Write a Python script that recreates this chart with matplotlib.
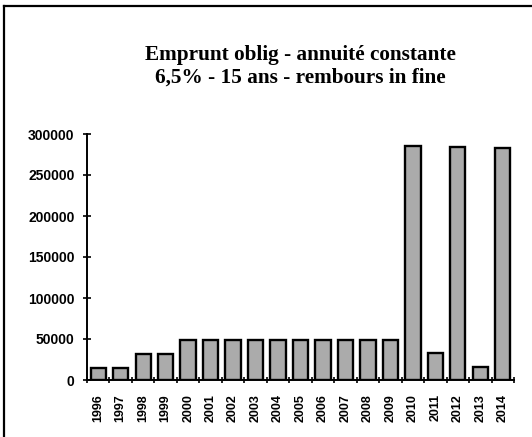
import matplotlib
matplotlib.use("Agg")
import matplotlib.pyplot as plt
import numpy as np
from matplotlib.lines import Line2D

# Annuities per year
years = ["1996", "1997", "1998", "1999", "2000", "2001", "2002", "2003", "2004",
         "2005", "2006", "2007", "2008", "2009", "2010", "2011", "2012", "2013", "2014"]
annuites = [15000, 15000, 32000, 32000, 49000, 49000, 49000, 49000, 49000,
            49000, 49000, 49000, 49000, 49000, 285000, 33000, 284000, 16000, 283000]
yticks = [0, 50000, 100000, 150000, 200000, 250000, 300000]
title_lines = ["Emprunt oblig - annuité constante", "6,5% - 15 ans - rembours in fine"]

W, H = 532, 437
fig = plt.figure(figsize=(W / 100, H / 100), dpi=100)
fig.patch.set_facecolor("white")

# outer frame (open on the right and bottom, cropped in the scan)
fig.add_artist(Line2D([4 / W, 4 / W], [0, 1 - 6 / H], color="black", lw=1.6,
                      transform=fig.transFigure))
fig.add_artist(Line2D([4 / W, 1], [1 - 6 / H, 1 - 6 / H], color="black", lw=1.6,
                      transform=fig.transFigure))

ax = fig.add_axes([87 / W, 1 - 380 / H, (514 - 87) / W, (380 - 134) / H])
x = np.arange(len(years))
ax.bar(x, annuites, width=0.68, color="#ababab", edgecolor="black", linewidth=1.7,
       zorder=3)

ax.set_xlim(-0.5, len(years) - 0.5)
ax.set_ylim(0, 300000)
for s in ["top", "right"]:
    ax.spines[s].set_visible(False)
ax.spines["left"].set_linewidth(1.4)
ax.spines["bottom"].set_linewidth(1.4)

ax.set_yticks(yticks)
ax.set_yticklabels([str(v) for v in yticks], fontfamily="Liberation Sans",
                   fontweight="bold", fontsize=10)
ax.tick_params(axis="y", direction="inout", length=6, width=1.2, pad=6)

ax.set_xticks(x)
ax.set_xticklabels(years, rotation=90, fontfamily="Liberation Sans",
                   fontweight="bold", fontsize=9)
ax.tick_params(axis="x", which="major", length=0, pad=10)
ax.set_xticks(np.arange(-0.5, len(years)), minor=True)
ax.tick_params(axis="x", which="minor", direction="inout", length=5, width=1.2)

fig.text(300 / W, 1 - 55 / H, title_lines[0], ha="center", va="center",
         fontfamily="Liberation Serif", fontweight="bold", fontsize=15.3)
fig.text(300 / W, 1 - 78 / H, title_lines[1], ha="center", va="center",
         fontfamily="Liberation Serif", fontweight="bold", fontsize=15.3)

fig.savefig("out.png", dpi=100, facecolor="white")
